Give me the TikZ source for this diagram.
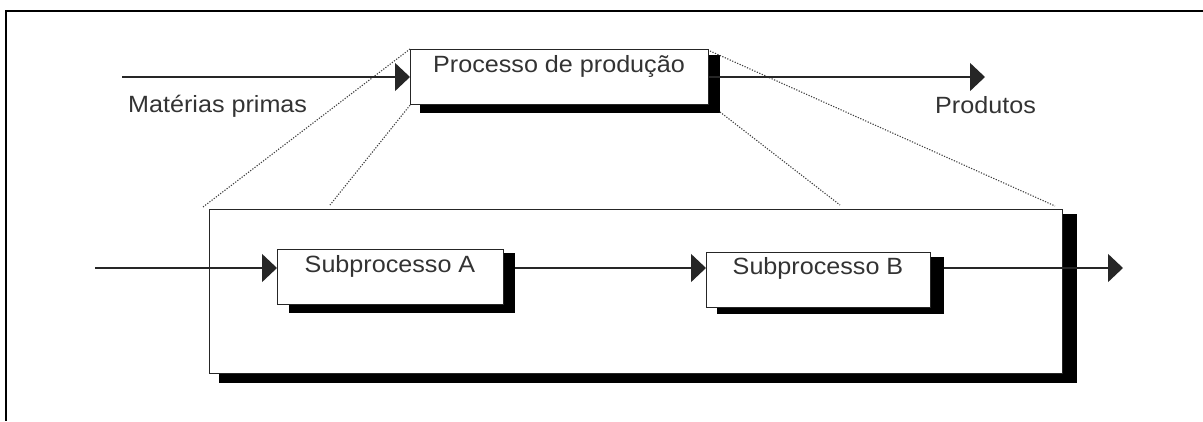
\documentclass[tikz,border=0pt]{standalone}
\usepackage{fontspec}
\setmainfont{Liberation Sans}[FakeStretch=1.07]
\usetikzlibrary{arrows.meta,calc}
\tikzset{
  box/.style={draw=black!85, line width=1.2pt, fill=white, rectangle, inner sep=0pt, anchor=north west},
  shadowfill/.style={fill=black},
  lbl/.style={font=\fontsize{23.5}{28}\selectfont, text=black!80, inner sep=0pt},
  arr/.style={draw=black!85, line width=1.4pt, -{Triangle[length=15pt,width=28pt]}},
  dots/.style={draw=black!75, line width=1.1pt, dash pattern=on 1.2pt off 1.5pt},
  frame/.style={draw=black, line width=2pt}
}
\begin{document}
\begin{tikzpicture}[x=1pt,y=-1pt]
\useasboundingbox (0,0) rectangle (1203,421);
% outer frame
\coordinate (f1) at (1203,10.5);
\coordinate (f2) at (5.5,10.5);
\coordinate (f3) at (5.5,421);
\draw[frame] (f1) -- (f2) -- (f3);

% big box
\fill[shadowfill] (219,214) rectangle (1077,383);
\node[box, minimum width=853pt, minimum height=164pt] (big) at (209,209) {};

% top box
\fill[shadowfill] (420,55) rectangle (720,113);
\node[box, minimum width=298pt, minimum height=55pt] (top) at (410,49) {};
\node[lbl] (toplbl) at (559,66) {Processo de produção};

% dotted connectors
\coordinate (d1) at (203,207);
\coordinate (d2) at (330,205);
\coordinate (d3) at (840,205);
\coordinate (d4) at (1055,206);
\coordinate (tse) at (720,112);
\coordinate (tne) at (710,51);
\draw[dots] (top.north west) -- (d1);
\draw[dots] (top.south west) -- (d2);
\draw[dots] (tse) -- (d3);
\draw[dots] (tne) -- (d4);

% subprocess A
\fill[shadowfill] (289,253) rectangle (515,313);
\node[box, minimum width=226pt, minimum height=55pt] (A) at (277,249) {};
\node[lbl] (Albl) at (390,266) {Subprocesso A};

% subprocess B
\fill[shadowfill] (717,257) rectangle (944,314);
\node[box, minimum width=224pt, minimum height=55pt] (B) at (706,252) {};
\node[lbl] (Blbl) at (818,268) {Subprocesso B};

% top arrows
\coordinate (in0) at (122,77);
\coordinate (out0) at (985,77);
\draw[arr] (in0) -- (in0 -| top.west);
\draw[arr] (top.east |- out0) -- (out0);
\node[lbl, anchor=west] (mp) at (128,106) {Matérias primas};
\node[lbl, anchor=west] (prod) at (935,105) {Produtos};

% row arrows
\coordinate (r0) at (95,268);
\coordinate (r1) at (515,268);
\coordinate (r2) at (944,268);
\coordinate (r3) at (1123,268);
\draw[arr] (r0) -- (r0 -| A.west);
\draw[arr] (r1) -- (r1 -| B.west);
\draw[arr] (r2) -- (r3);
\end{tikzpicture}
\end{document}
